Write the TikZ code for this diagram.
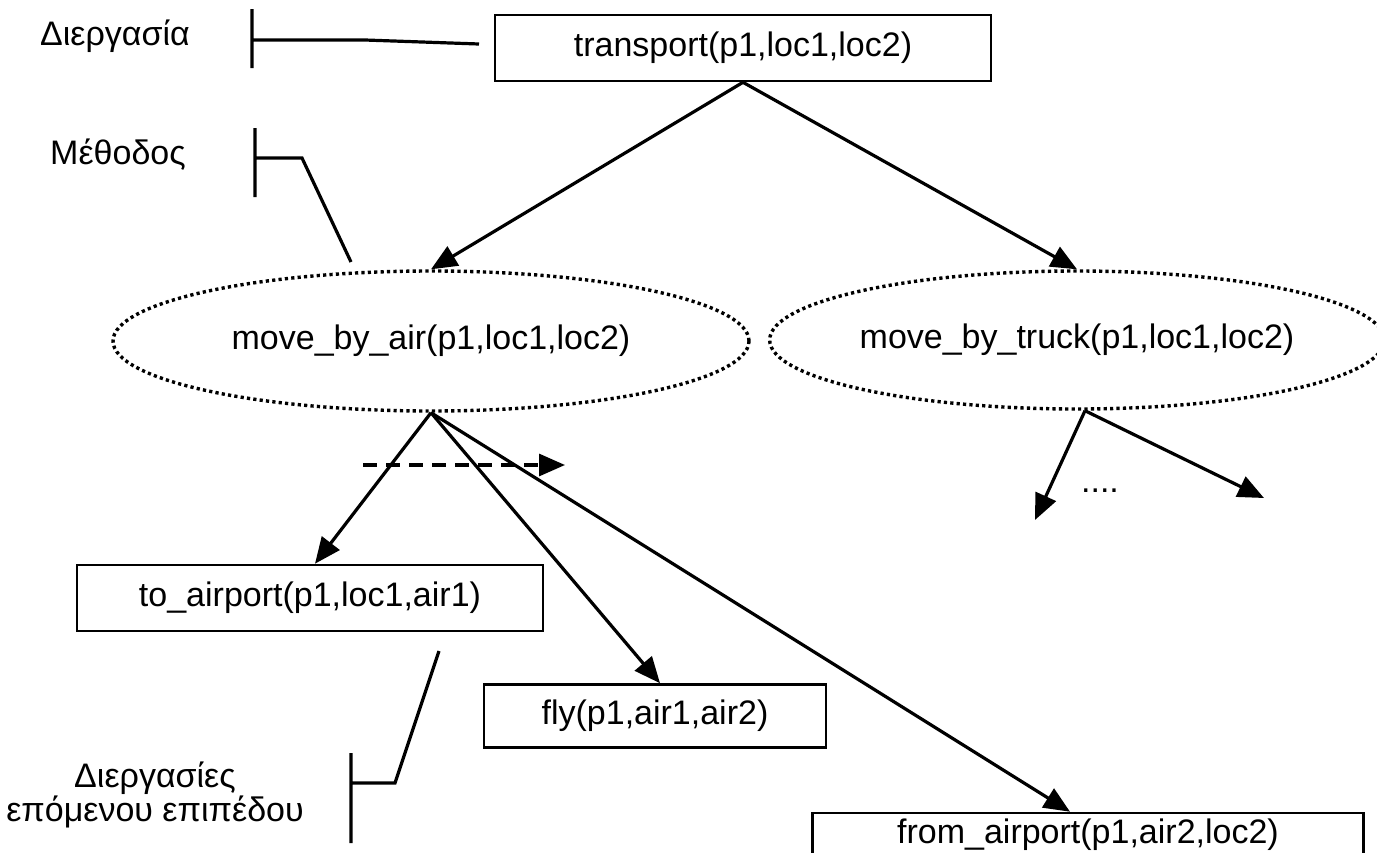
\documentclass[tikz,border=0pt]{standalone}
\usepackage{fontspec}
\setmainfont{Liberation Sans}
\usetikzlibrary{arrows.meta,shapes.geometric}

\tikzset{
  task/.style={draw, line width=1.3pt, minimum width=#1, minimum height=33pt, inner sep=0pt},
  method/.style={ellipse, draw, line width=1.7pt, dash pattern=on 1.6pt off 1.6pt, inner sep=0pt},
  link/.style={line width=1.6pt, -{Triangle[length=13pt,width=11pt]}},
  pointer/.style={line width=1.6pt},
}

\begin{document}
\begin{tikzpicture}[x=0.5pt,y=-0.5pt,font=\fontsize{17}{17}\selectfont]
  \useasboundingbox (0,0) rectangle (1377,852);
  \clip (0,0) rectangle (1377,852);

  % tasks and methods
  \node[task=248pt] (transport) at (743,48) {transport(p1,loc1,loc2)};
  \node[method, minimum width=318pt, minimum height=70pt] (air) at (431,341) {move\_by\_air(p1,loc1,loc2)};
  \node[method, minimum width=300pt, minimum height=69pt] (truck) at (1077,340) {move\_by\_truck(p1,loc1,loc2)};
  \node[task=233pt] (toair) at (310,598) {to\_airport(p1,loc1,air1)};
  \node[task=171pt, minimum height=31.5pt] (fly) at (655,716) {fly(p1,air1,air2)};
  \node[task=275.5pt, minimum height=22pt] (fromair) at (1088,835) {from\_airport(p1,air2,loc2)};

  % decomposition
  \draw[link] (transport.south) -- (air.north);
  \draw[link] (transport.south) -- (truck.north);
  \draw[link] (air.south) -- ([xshift=2.5pt]toair.north);
  \draw[link] (air.south) -- ([xshift=2.5pt]fly.north);
  \draw[link] (air.south) -- ([xshift=-9pt]fromair.north);

  \coordinate (sub1) at (1035,520);
  \coordinate (sub2) at (1264,498);
  \draw[link] ([xshift=4pt]truck.south) -- (sub1);
  \draw[link] ([xshift=4pt]truck.south) -- (sub2);
  \node[anchor=base] (more) at (1100,492) {....};

  % order of subtasks
  \coordinate (ord0) at (363,465);
  \coordinate (ord1) at (565,465);
  \draw[link, dash pattern=on 7pt off 4.5pt] (ord0) -- (ord1);

  % labels
  \node (lproc) at (115,36) {Διεργασία};
  \draw[pointer] (252,9) -- (252,68) (252,40) -- (365,40) -- (479,44);

  \node (lmeth) at (118,155) {Μέθοδος};
  \draw[pointer] (255,128) -- (255,197) (255,158) -- (302,158) -- (351,262);

  \node[align=center] (lsub) at (155,795) {Διεργασίες\\επόμενου επιπέδου};
  \draw[pointer] (351,753) -- (351,843) (351,783) -- (395,783) -- (439,651);
\end{tikzpicture}
\end{document}
